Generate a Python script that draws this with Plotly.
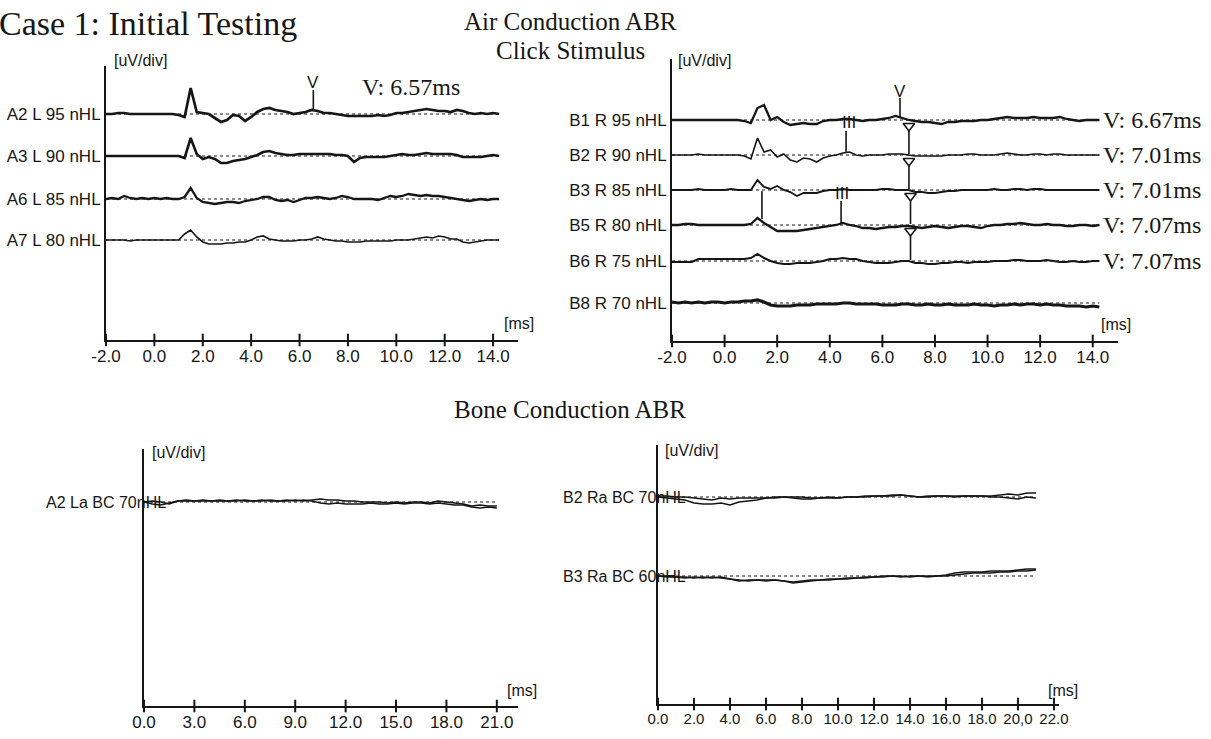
import plotly.graph_objects as go

# ---------------- DATA ----------------
time_ms_ac = [-2.0, -1.75, -1.5, -1.25, -1.0, -0.75, -0.5, -0.25, 0.0, 0.25, 0.5, 0.75,
              1.0, 1.25, 1.5, 1.75, 2.0, 2.25, 2.5, 2.75, 3.0, 3.25, 3.5, 3.75,
              4.0, 4.25, 4.5, 4.75, 5.0, 5.25, 5.5, 5.75, 6.0, 6.25, 6.5, 6.75,
              7.0, 7.25, 7.5, 7.75, 8.0, 8.25, 8.5, 8.75, 9.0, 9.25, 9.5, 9.75,
              10.0, 10.25, 10.5, 10.75, 11.0, 11.25, 11.5, 11.75, 12.0, 12.25, 12.5, 12.75,
              13.0, 13.25, 13.5, 13.75, 14.0, 14.25]

# Left ear, air conduction (amplitude in display units)
left_ac_labels = ["A2 L 95 nHL", "A3 L 90 nHL", "A6 L 85 nHL", "A7 L 80 nHL"]
a2_l95 = [0, 0, 1, 1, 0, 0, 0, 0, 0, 0, 0, 0, -1, -3, 26, 2, 1, 0, -4, -8, -6, -1, -2, -7,
          -3, 2, 5, 6, 4, 3, 2, 0, 1, 2, 4, 3, 1, 1, 0, -1, -2, -2, -2, -2, -2, -1, -2, -1,
          1, 1, 2, 3, 4, 5, 4, 3, 3, 2, 4, 3, 1, 0, 1, 0, 1, 0]
a3_l90 = [0, 0, 0, 0, 0, 0, 0, 0, 0, 0, 0, 0, 0, -2, 18, 2, -3, -1, -3, -7, -7, -5, -4, -3,
          -1, 1, 4, 5, 3, 2, 1, 1, 2, 2, 2, 2, 2, 2, 1, 1, 0, -6, -2, -1, -1, -1, -1, 0,
          1, 2, 1, 1, 2, 3, 2, 2, 2, 2, 1, -1, -1, -1, -1, 0, 1, 0]
a6_l85 = [0, 1, 0, 3, 1, 0, 1, 0, 1, 0, 1, 0, 0, 2, 11, 1, -3, -4, -5, -4, -3, -3, -4, -2,
          -1, 0, 2, 2, -1, -2, -1, -3, -1, 1, 1, 2, 1, 0, 1, 3, 2, 0, 0, 0, 0, -1, 1, 3,
          2, 3, 5, 4, 3, 4, 3, 3, 2, 1, 0, -1, -2, -1, 0, -1, 0, 0]
a7_l80 = [0, 0, 0, 0, -1, 0, 0, 0, 0, 0, 0, 0, 0, 6, 10, 3, -2, -4, -4, -4, -3, -3, -2, -2,
          0, 3, 4, 1, 0, -1, -1, -1, 0, 0, 1, 3, 1, 0, -1, -1, -2, -2, -2, -1, -1, -1, -1, -1,
          0, 0, 0, 1, 2, 3, 2, 4, 3, 1, 1, -2, -3, -2, -1, 0, 0, 0]
left_wave_v_ms = 6.57
left_wave_v_text = "V: 6.57ms"

# Right ear, air conduction
right_ac_labels = ["B1 R 95 nHL", "B2 R 90 nHL", "B3 R 85 nHL", "B5 R 80 nHL", "B6 R 75 nHL", "B8 R 70 nHL"]
b1_r95 = [0, 0, 0, 0, 0, 0, 0, 0, 0, 0, 0, -1, -3, 12, 15, 0, 3, -2, -5, -4, -3, -4, -4, -1,
          0, 0, 1, 1, 0, -1, 0, 0, 1, 2, 4, 2, 0, -1, -2, -2, -3, -4, -2, -2, -1, -1, -1, 0,
          0, 1, 2, 3, 2, 2, 2, 3, 2, 2, 2, 3, 1, 0, -1, 0, 0, 0]
b2_r90 = [0, 0, 0, 0, 1, 0, 0, 0, 0, 0, 0, -1, -4, 17, 3, 5, -2, 1, -5, -7, -3, -4, -7, -3,
          -1, 0, 2, 3, 0, -1, 0, 0, 0, 1, 1, 1, 0, -1, -1, -1, -1, -1, 0, 0, 0, 1, 1, 0,
          0, 0, 1, 2, 1, 0, 0, 1, 1, 0, 1, 1, 0, 0, 0, 0, 0, 0]
b3_r85 = [0, 0, 0, 0, 1, 0, 0, 0, 0, 1, 0, 0, 0, 10, 3, 1, 4, 0, -2, -6, -3, -3, -3, -1,
          0, 0, 1, 0, 0, 0, 0, 0, 1, 1, 0, 0, 0, -2, -2, -3, -3, -2, -1, -1, 0, 0, 0, 0,
          0, 1, 0, 0, 1, 1, 0, 1, 1, 0, 0, 0, 0, 0, 0, 0, 0, 0]
b5_r80 = [0, 0, 1, 1, 0, 0, 0, 0, 0, 0, 0, 0, 1, 7, 2, -2, -6, -6, -6, -6, -5, -4, -3, -2,
          -1, 0, 2, 0, -1, -3, -3, -4, -3, -2, -2, -1, -1, -2, -3, -2, -1, -2, -3, -2, -1, -1, -2, -3,
          -1, 0, 0, 1, 1, 2, 1, 0, 0, 1, 0, 0, -1, -1, 0, 0, -1, 0]
b6_r75 = [-1, -1, -1, -1, 2, 2, 2, 2, 2, 2, 2, 2, 3, 7, 3, 0, -2, -3, -3, -2, -2, -2, -1, 0,
          2, 2, 3, 2, 2, 0, -1, -2, -2, -2, -1, 0, 0, -2, -2, -3, -3, -2, -2, -1, -1, -2, -1, -1,
          -1, 0, 0, 0, 1, 1, 0, 0, 0, 1, 0, -1, -1, 0, -1, -1, 0, 0]
b8_r70 = [1, 0, 1, 0, 1, 0, 1, 1, 0, 1, 1, 2, 2, 3, 1, -2, -3, -3, -3, -2, -2, -2, -1, -1,
          -1, -1, 0, 0, -1, -1, -1, -1, -2, -2, -2, -1, -1, -2, -2, -1, -2, -2, -1, -2, -2, -2, -1, -2,
          -2, -3, -2, -2, -1, -2, -1, -1, -2, -1, -2, -2, -3, -3, -3, -4, -3, -4]
right_wave_v_ms = [6.67, 7.01, 7.01, 7.07, 7.07]
right_wave_v_text = ["V: 6.67ms", "V: 7.01ms", "V: 7.01ms", "V: 7.07ms", "V: 7.07ms"]
right_wave_iii_ms = [4.73, 4.62, 4.46, 4.43]   # B1, B2, B3, B5
right_wave_i_ms = 1.42                          # B3 -> B5 marker

# Bone conduction
time_ms_bc = [0.0, 0.5, 1.0, 1.5, 2.0, 2.5, 3.0, 3.5, 4.0, 4.5, 5.0, 5.5, 6.0, 6.5, 7.0, 7.5,
              8.0, 8.5, 9.0, 9.5, 10.0, 10.5, 11.0, 11.5, 12.0, 12.5, 13.0, 13.5, 14.0, 14.5,
              15.0, 15.5, 16.0, 16.5, 17.0, 17.5, 18.0, 18.5, 19.0, 19.5, 20.0, 20.5, 21.0]
left_bc_label = "A2 La BC 70nHL"
a2_la_bc70_run1 = [0, 1, 0, -2, 1, 2, 1, 1, 1, 2, 1, 1, 2, 1, 1, 2, 1, 1, 2, 1, 2, 3, 2, 2,
                   1, 1, 0, 0, 0, -1, 0, -1, 0, 0, -1, 1, 0, -1, -2, -4, -3, -4, -4]
a2_la_bc70_run2 = [0, -2, -3, -1, 1, 1, 1, 2, 1, 1, 1, 2, 1, 1, 2, 1, 1, 2, 1, 2, 1, -1, -2, -1,
                   -2, -2, -2, -1, -2, -2, -1, -2, -1, -1, -2, -1, -2, -3, -3, -5, -6, -5, -6]
right_bc_labels = ["B2 Ra BC 70nHL", "B3 Ra BC 60nHL"]
b2_ra_bc70_run1 = [1, 1, 0, 0, -1, -2, -3, -1, -2, -1, -1, -1, -1, 0, 0, 0, 0, -1, -1, 0, -1, 0, 0, 1,
                   1, 1, 2, 2, 1, 0, 1, 1, 1, 1, 1, 1, 1, 1, 2, 3, 2, 4, 4]
b2_ra_bc70_run2 = [0, -1, -2, -3, -6, -7, -7, -6, -8, -5, -4, -3, -1, -1, 0, -1, -2, -2, -1, -1, -1, 0, 0, 0,
                   1, 1, 1, 2, 1, 0, 0, 1, 1, 0, 1, 1, 1, 0, 0, -1, -2, 0, -1]
b3_ra_bc60_run1 = [0, 0, -1, -1, -2, -1, -2, -1, -3, -5, -4, -4, -4, -4, -5, -6, -5, -4, -4, -3, -3, -2, -2, -1,
                   -1, 0, 0, -1, 0, 0, -1, 0, 1, 3, 4, 4, 4, 5, 5, 5, 6, 7, 7]
b3_ra_bc60_run2 = [0, -1, -1, -2, -1, -2, -1, -2, -3, -4, -5, -4, -5, -4, -5, -7, -6, -5, -4, -4, -3, -3, -2, -2,
                   -1, -1, 0, 0, -1, 0, 0, 0, 0, 1, 2, 3, 3, 3, 4, 4, 5, 5, 6]

ticks_ac = [-2, 0, 2, 4, 6, 8, 10, 12, 14]
ticktext_ac = ["-2.0", "0.0", "2.0", "4.0", "6.0", "8.0", "10.0", "12.0", "14.0"]
ticks_bc_left = [0, 3, 6, 9, 12, 15, 18, 21]
ticktext_bc_left = ["0.0", "3.0", "6.0", "9.0", "12.0", "15.0", "18.0", "21.0"]
ticks_bc_right = [0, 2, 4, 6, 8, 10, 12, 14, 16, 18, 20, 22]
ticktext_bc_right = ["0.0", "2.0", "4.0", "6.0", "8.0", "10.0", "12.0", "14.0", "16.0", "18.0", "20,0", "22.0"]

# ---------------- LAYOUT / STYLE ----------------
W, H = 1211, 739
INK = "#161616"
SANS = "Liberation Sans, Arial, sans-serif"
SERIF = "Liberation Serif, Times New Roman, serif"


def fx(x):
    return x / W


def fy(y):
    return 1 - y / H


# panel boxes in pixels: left, right, top, bottom(x-axis) and x range
P = {
    "A": dict(ax="", x0=106, x1=518, y0=66, y1=340, xr=[-2, 15.03]),
    "B": dict(ax="2", x0=672, x1=1118, y0=59, y1=341, xr=[-2, 14.96]),
    "C": dict(ax="3", x0=144, x1=518, y0=449, y1=706, xr=[0, 22.26]),
    "D": dict(ax="4", x0=658, x1=1059, y0=445, y1=704, xr=[0, 22.28]),
}
# baseline pixel rows of the stacked traces
rows_px = {
    "A": [114, 156, 199, 240],
    "B": [120, 155, 190, 225, 261, 303],
    "C": [502],
    "D": [497, 576],
}
off = {k: [P[k]["y1"] - r for r in rows_px[k]] for k in P}

fig = go.Figure()


def add_line(panel, x, y, width=2.0, color=INK, dash=None):
    a = P[panel]["ax"]
    fig.add_trace(go.Scatter(x=x, y=y, mode="lines",
                             line=dict(width=width, color=color, dash=dash),
                             xaxis="x" + a, yaxis="y" + a, showlegend=False,
                             hoverinfo="skip", cliponaxis=False))


# ---- dotted reference baselines ----
for k, t in (("A", time_ms_ac), ("B", time_ms_ac)):
    for o in off[k]:
        add_line(k, [t[0], t[-1]], [o, o], width=1.6, color="#666", dash="dot")
for k in ("C", "D"):
    for o in off[k]:
        add_line(k, [time_ms_bc[0], time_ms_bc[-1]], [o, o], width=1.6, color="#666", dash="dot")

# ---- waveforms ----
left_set = [a2_l95, a3_l90, a6_l85, a7_l80]
left_w = [2.7, 2.6, 2.3, 1.7]
for amp, o, w in zip(left_set, off["A"], left_w):
    add_line("A", time_ms_ac, [o + v for v in amp], width=w)

right_set = [b1_r95, b2_r90, b3_r85, b5_r80, b6_r75, b8_r70]
right_w = [2.3, 1.6, 1.9, 2.3, 2.0, 3.2]
for amp, o, w in zip(right_set, off["B"], right_w):
    add_line("B", time_ms_ac, [o + v for v in amp], width=w)

for amp in (a2_la_bc70_run1, a2_la_bc70_run2):
    add_line("C", time_ms_bc, [off["C"][0] + v for v in amp], width=1.5)
for amp in (b2_ra_bc70_run1, b2_ra_bc70_run2):
    add_line("D", time_ms_bc, [off["D"][0] + v for v in amp], width=1.5)
for amp in (b3_ra_bc60_run1, b3_ra_bc60_run2):
    add_line("D", time_ms_bc, [off["D"][1] + v for v in amp], width=1.6)

# ---- peak markers ----
annots = []


def glyph(panel, x, y, text, size=17):
    a = P[panel]["ax"]
    annots.append(dict(x=x, y=y, xref="x" + a, yref="y" + a, text=text, showarrow=False,
                       font=dict(family=SANS, size=size, color=INK)))


# left: wave V
oA = off["A"][0]
add_line("A", [left_wave_v_ms, left_wave_v_ms], [oA + 24, oA + 4], width=1.6)
glyph("A", left_wave_v_ms, oA + 32, "V")

# right: wave V
oB = off["B"]
add_line("B", [right_wave_v_ms[0], right_wave_v_ms[0]], [oB[0] + 22, oB[0] + 3], width=1.6)
glyph("B", right_wave_v_ms[0], oB[0] + 29, "V")
for k in range(1, 5):
    lat = right_wave_v_ms[k]
    upper = oB[k - 1]
    lower = oB[k]
    add_line("B", [lat, lat], [upper - 11, lower + 1], width=1.6)
    fig.add_trace(go.Scatter(x=[lat], y=[upper - 6], mode="markers",
                             marker=dict(symbol="triangle-down", size=10, color="white",
                                         line=dict(width=1.6, color=INK)),
                             xaxis="x2", yaxis="y2", showlegend=False, hoverinfo="skip",
                             cliponaxis=False))
# wave III
glyph("B", right_wave_iii_ms[0], oB[0] - 2, "III", size=17)
add_line("B", [right_wave_iii_ms[1], right_wave_iii_ms[1]], [oB[0] - 11, oB[1] + 3], width=1.6)
glyph("B", right_wave_iii_ms[2], oB[2] - 3, "III", size=17)
add_line("B", [right_wave_iii_ms[3], right_wave_iii_ms[3]], [oB[2] - 11, oB[3] + 2], width=1.6)
# wave I
add_line("B", [right_wave_i_ms, right_wave_i_ms], [oB[2] - 1, oB[3] + 6], width=1.6)

# ---- x tick crosses ----
for k, tv in (("A", ticks_ac), ("B", ticks_ac), ("C", ticks_bc_left), ("D", ticks_bc_right)):
    a = P[k]["ax"]
    fig.add_trace(go.Scatter(x=tv, y=[0] * len(tv), mode="markers",
                             marker=dict(symbol="line-ns", size=9, line=dict(width=2, color=INK)),
                             xaxis="x" + a, yaxis="y" + a, showlegend=False, hoverinfo="skip",
                             cliponaxis=False))

# ---- axes ----
axis_ticks = {"A": (ticks_ac, ticktext_ac, 17), "B": (ticks_ac, ticktext_ac, 17),
              "C": (ticks_bc_left, ticktext_bc_left, 17), "D": (ticks_bc_right, ticktext_bc_right, 15)}
ylabels = {"A": left_ac_labels, "B": right_ac_labels, "C": None, "D": None}
layout_axes = {}
for k, p in P.items():
    a = p["ax"]
    tv, tt, fs = axis_ticks[k]
    layout_axes["xaxis" + a] = dict(
        domain=[fx(p["x0"]), fx(p["x1"])], range=p["xr"], anchor="y" + a, automargin=False,
        showline=True, linecolor=INK, linewidth=2, showgrid=False, zeroline=False,
        tickvals=tv, ticktext=tt, ticks="", tickangle=0,
        tickfont=dict(family=SANS, size=fs, color=INK), fixedrange=True)
    yl = ylabels[k]
    layout_axes["yaxis" + a] = dict(
        domain=[fy(p["y1"]), fy(p["y0"])], range=[0, p["y1"] - p["y0"]], anchor="x" + a,
        automargin=False,
        showline=True, linecolor=INK, linewidth=2, showgrid=False, zeroline=False,
        tickvals=off[k] if yl else [], ticktext=yl if yl else [], ticks="",
        showticklabels=bool(yl),
        tickfont=dict(family=SANS, size=17, color=INK), fixedrange=True)


def ptext(x, y, text, size, family, anchor="left"):
    annots.append(dict(x=fx(x), y=fy(y), xref="paper", yref="paper", text=text,
                       showarrow=False, xanchor=anchor, yanchor="middle",
                       font=dict(family=family, size=size, color=INK)))


ptext(-3, 24, "Case 1: Initial Testing", 34, SERIF)
ptext(570, 21, "Air Conduction ABR", 25, SERIF, "center")
ptext(570, 51, "Click Stimulus", 25, SERIF, "center")
ptext(570, 409, "Bone Conduction ABR", 25, SERIF, "center")
ptext(360, 87, left_wave_v_text, 24, SERIF)
for t, o in zip(right_wave_v_text, off["B"]):
    annots.append(dict(x=14.33, y=o, xref="x2", yref="y2", text=t, showarrow=False,
                       xanchor="left", yanchor="middle",
                       font=dict(family=SERIF, size=24, color=INK)))
for x, y in ((112, 61), (676, 60), (150, 452), (663, 450)):
    ptext(x, y, "[uV/div]", 16, SANS)
for x, y in ((502, 323), (1099, 324), (505, 690), (1046, 690)):
    ptext(x, y, "[ms]", 16, SANS)
ptext(168, rows_px["C"][0], left_bc_label, 16, SANS, "right")
for lab, r in zip(right_bc_labels, rows_px["D"]):
    ptext(688, r, lab, 16, SANS, "right")

fig.update_layout(width=W, height=H, margin=dict(l=0, r=0, t=0, b=0, autoexpand=False),
                  paper_bgcolor="white", plot_bgcolor="rgba(0,0,0,0)",
                  showlegend=False, annotations=annots, **layout_axes)

fig.write_html("out.html")
